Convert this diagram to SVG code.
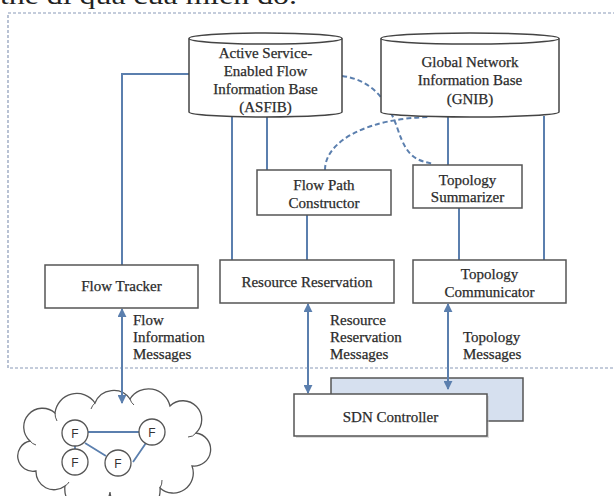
<svg xmlns="http://www.w3.org/2000/svg" width="614" height="496" viewBox="0 0 614 496">
  <style>
    .box { fill: #ffffff; stroke: #555555; stroke-width: 1.5; }
    .cyl { fill: #ffffff; stroke: #444444; stroke-width: 1.5; }
    .txt { font-family: "Liberation Serif", "Times New Roman", serif; font-size: 15px; fill: #2b2b2b; stroke: #2b2b2b; stroke-width: 0.25; text-anchor: middle; }
    .lbl { font-family: "Liberation Serif", "Times New Roman", serif; font-size: 15px; fill: #2b2b2b; stroke: #2b2b2b; stroke-width: 0.25; }
    .link { fill: none; stroke: #5b7fae; stroke-width: 2; }
    .dash { fill: none; stroke: #5b7fae; stroke-width: 2; stroke-dasharray: 5 3; }
    .arrow { fill: none; stroke: #5b7fae; stroke-width: 2; marker-start: url(#head); marker-end: url(#head); }
    .fnode { fill: #ffffff; stroke: #555555; stroke-width: 1.3; }
    .ftxt { font-family: "Liberation Sans", Arial, sans-serif; font-size: 12px; fill: #333333; text-anchor: middle; }
  </style>
  <defs>
    <marker id="head" viewBox="0 0 10 10" refX="9" refY="5" markerWidth="4.5" markerHeight="4.5" orient="auto-start-reverse">
      <path d="M0,0 L10,5 L0,10 z" fill="#5b7fae"/>
    </marker>
  </defs>

  <!-- caption line from the surrounding page -->
  <text x="0" y="4" font-family="Liberation Serif, serif" font-size="26" fill="#222" textLength="297" lengthAdjust="spacingAndGlyphs">thể đi qua của miền đó.</text>

  <!-- dashed system boundary -->
  <rect x="8" y="13" width="620" height="355" fill="none" stroke="#8a9ab8" stroke-width="1.2" stroke-dasharray="3 2"/>

  <!-- flow network cloud -->
  <g id="flow-cloud">
    <path fill="#ffffff" stroke="#555555" stroke-width="1.3" d="M36,471 A14,14 0 0 1 30,441 A18,18 0 0 1 55,413 A22,22 0 0 1 95,403 A20,20 0 0 1 130,399 A22,22 0 0 1 170,406 A18,18 0 0 1 196,433 A16,16 0 0 1 192,466 A20,20 0 0 1 160,488 A24,24 0 0 1 110,492 A20,20 0 0 1 65,486 A18,18 0 0 1 36,471 Z"/>
    <path fill="none" stroke="#555555" stroke-width="1" d="M55,413 a16,16 0 0 0 2,8 M95,403 a14,14 0 0 0 -4,6 M130,399 a12,12 0 0 0 4,6 M196,433 a10,10 0 0 1 -8,4 M160,488 a14,14 0 0 0 2,-8 M65,486 a10,10 0 0 0 4,-4 M30,441 a12,12 0 0 0 6,4"/>
    <path fill="none" stroke="#5b7fae" stroke-width="1.8" d="M88,432 H139 M75,446 V449 M85,443 L106,456 M146,443 L133,462"/>
    <circle class="fnode" cx="75" cy="433" r="13"/>
    <circle class="fnode" cx="152" cy="432" r="13"/>
    <circle class="fnode" cx="75" cy="462" r="13"/>
    <circle class="fnode" cx="118" cy="463" r="13"/>
    <text class="ftxt" x="75" y="437.5">F</text>
    <text class="ftxt" x="152" y="436.5">F</text>
    <text class="ftxt" x="75" y="466.5">F</text>
    <text class="ftxt" x="118" y="467.5">F</text>
  </g>

  <!-- connectors -->
  <g id="connectors">
    <path class="link" d="M122,265 V74 H189"/>
    <path class="link" d="M232,117 V260"/>
    <path class="link" d="M267,116 V170"/>
    <path class="link" d="M307,215 V260"/>
    <path class="link" d="M448,117 V165"/>
    <path class="link" d="M544,116 V260"/>
    <path class="link" d="M459,208 V260"/>
    <path class="dash" d="M342,76 C372,80 388,100 398,130 S418,160 433,164"/>
    <path class="dash" d="M325,170 C325,140 370,118 430,117"/>
    <path class="arrow" d="M122,309 V403"/>
    <path class="arrow" d="M308,304 V393"/>
  </g>

  <!-- ASFIB database -->
  <g id="asfib">
    <path class="cyl" d="M189,38.5 V112 A76.5,5 0 0 0 342,112 V38.5"/>
    <ellipse class="cyl" cx="265.5" cy="38.5" rx="76.5" ry="5.5"/>
    <text class="txt" x="265.5" y="58">Active Service-</text>
    <text class="txt" x="265.5" y="75.5">Enabled  Flow</text>
    <text class="txt" x="265.5" y="93.5">Information Base</text>
    <text class="txt" x="265.5" y="111.5">(ASFIB)</text>
  </g>

  <!-- GNIB database -->
  <g id="gnib">
    <path class="cyl" d="M381,38.5 V112 A89,5 0 0 0 559,112 V38.5"/>
    <ellipse class="cyl" cx="470" cy="38.5" rx="89" ry="5.5"/>
    <text class="txt" x="470" y="67">Global Network</text>
    <text class="txt" x="470" y="85">Information Base</text>
    <text class="txt" x="470" y="103.5">(GNIB)</text>
  </g>

  <g id="flow-path-constructor">
    <rect class="box" x="257" y="170" width="134" height="45"/>
    <text class="txt" x="324" y="190">Flow Path</text>
    <text class="txt" x="324" y="208">Constructor</text>
  </g>

  <g id="topology-summarizer">
    <rect class="box" x="413" y="165" width="109" height="43"/>
    <text class="txt" x="467.5" y="184.5">Topology</text>
    <text class="txt" x="467.5" y="202">Summarizer</text>
  </g>

  <g id="flow-tracker">
    <rect class="box" x="45" y="265" width="153" height="43"/>
    <text class="txt" x="121.5" y="291">Flow Tracker</text>
  </g>

  <g id="resource-reservation">
    <rect class="box" x="220" y="260" width="174" height="43"/>
    <text class="txt" x="307" y="287">Resource Reservation</text>
  </g>

  <g id="topology-communicator">
    <rect class="box" x="413" y="260" width="153" height="43"/>
    <text class="txt" x="489.5" y="279">Topology</text>
    <text class="txt" x="489.5" y="297">Communicator</text>
  </g>

  <!-- message labels -->
  <g id="labels">
    <text class="lbl" x="133" y="325">Flow</text>
    <text class="lbl" x="133" y="342">Information</text>
    <text class="lbl" x="133" y="359">Messages</text>
    <text class="lbl" x="330" y="325">Resource</text>
    <text class="lbl" x="330" y="342">Reservation</text>
    <text class="lbl" x="330" y="359">Messages</text>
    <text class="lbl" x="463" y="342">Topology</text>
    <text class="lbl" x="463" y="359">Messages</text>
  </g>

  <!-- SDN controller (stacked) -->
  <g id="sdn-controller">
    <rect x="331" y="378" width="192" height="43" fill="#d6e0ef" stroke="#555555" stroke-width="1.5"/>
    <path class="arrow" d="M448,304 V389"/>
    <rect x="296" y="396" width="193" height="42" fill="#bbbbbb" opacity="0.5"/>
    <rect class="box" x="294" y="394" width="193" height="42"/>
    <text class="txt" x="390.5" y="422">SDN  Controller</text>
  </g>
</svg>
